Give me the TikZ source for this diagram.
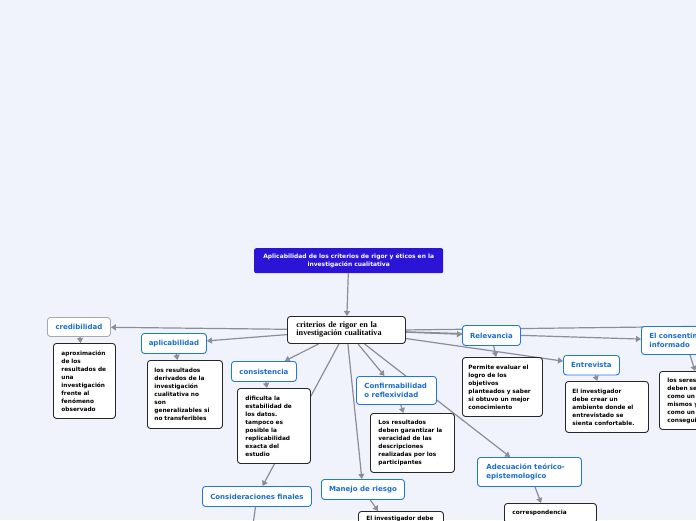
\documentclass[tikz,border=0pt]{standalone}
\usepackage{fontspec}
\setmainfont{DejaVu Sans}
\newfontfamily\serifb{Liberation Serif}
\usetikzlibrary{arrows.meta,calc}
\definecolor{bgc}{RGB}{241,243,252}
\definecolor{titlec}{RGB}{44,20,214}
\definecolor{lblue}{RGB}{30,120,228}
\definecolor{tblue}{RGB}{25,110,210}
\definecolor{edgec}{RGB}{138,142,152}
\definecolor{gborder}{RGB}{165,168,178}
\pgfdeclarelayer{backl}
\pgfdeclarelayer{edgel}
\pgfsetlayers{backl,edgel,main}
\begin{document}
\begin{tikzpicture}[x=1pt,y=-1pt,
  conn/.style={draw=edgec, line width=1.2pt, -{Triangle[length=5pt,width=6pt]}},
  lbl/.style={draw=lblue, line width=0.9pt, rounded corners=3pt, fill=white,
    font=\bfseries\fontsize{7}{8.5}\selectfont, text=tblue, inner sep=0pt, anchor=north west},
  lbltwo/.style={lbl, align=left, inner ysep=0pt},
  txtbox/.style={draw=black!85, line width=0.9pt, rounded corners=3pt, fill=white,
    font=\bfseries\fontsize{5.8}{8}\selectfont, text=black, align=left,
    anchor=north west, inner ysep=0pt},
]
\useasboundingbox (0,0) rectangle (696,520);
\begin{pgfonlayer}{backl}
\fill[bgc] (0,0) rectangle (696,520);
\end{pgfonlayer}
\clip (0,0) rectangle (696,520);

% title and central
\node[fill=titlec, rounded corners=2pt, text=white, font=\bfseries\fontsize{5.95}{7.8}\selectfont,
  align=center, minimum width=189, minimum height=25, anchor=north west, inner sep=0pt]
  (title) at (254,248) {Aplicabilidad de los criterios de rigor y éticos en la\\investigación cualitativa};
\node[draw=black!85, line width=0.9pt, rounded corners=3pt, fill=white,
  font=\serifb\bfseries\fontsize{8.2}{8}\selectfont, align=left, text width=100,
  inner xsep=9, inner ysep=0pt, minimum height=27, anchor=north west]
  (central) at (287,316) {criterios de rigor en la\\investigación cualitativa};

% labels
\node[lbl, draw=gborder, minimum width=63, minimum height=19] (cred) at (47,317) {credibilidad};
\node[lbl, minimum width=65, minimum height=20] (aplic) at (141,333) {aplicabilidad};
\node[lbl, minimum width=65, minimum height=20] (consis) at (231,361) {consistencia};
\node[lbltwo, text width=64, inner xsep=8, minimum height=28] (confirm) at (356,376) {Confirmabilidad\\o reflexividad};
\node[lbl, minimum width=58, minimum height=20] (relev) at (462,325) {Relevancia};
\node[lbl, minimum width=56, minimum height=19.5] (entrev) at (563,355) {Entrevista};
\node[lbltwo, text width=72, inner xsep=8, minimum height=28] (consent) at (641,326) {El consentimiento\\informado};
\node[lbl, minimum width=109, minimum height=20] (consid) at (202,486) {Consideraciones finales};
\node[lbl, minimum width=83, minimum height=20] (manejo) at (321,479) {Manejo de riesgo};
\node[lbltwo, text width=86, inner xsep=9, minimum height=29] (adec) at (477,457) {Adecuación teórico-\\epistemologico};

% text boxes
\node[txtbox, text width=46, inner xsep=8, minimum height=75] (credt) at (53,343)
  {aproximación\\de los\\resultados de\\una\\investigación\\frente al\\fenómeno\\observado};
\node[txtbox, text width=61, inner xsep=7, minimum height=68] (aplict) at (147,360)
  {los resultados\\derivados de la\\investigación\\cualitativa no\\son\\generalizables si\\no transferibles};
\node[txtbox, text width=57, inner xsep=8, minimum height=75] (consist) at (237,388)
  {dificulta la\\estabilidad de\\los datos.\\tampoco es\\posible la\\replicabilidad\\exacta del\\estudio};
\node[txtbox, text width=68, inner xsep=8, minimum height=59] (confirmt) at (370,413)
  {Los resultados\\deben garantizar la\\veracidad de las\\descripciones\\realizadas por los\\participantes};
\node[txtbox, text width=68, inner xsep=6, minimum height=59] (relevt) at (462,357)
  {Permite evaluar el\\logro de los\\objetivos\\planteados y saber\\si obtuvo un mejor\\conocimiento};
\node[txtbox, text width=69, inner xsep=7, minimum height=51] (entrevt) at (565,381)
  {El investigador\\debe crear un\\ambiente donde el\\entrevistado se\\sienta confortable.};
\node[txtbox, text width=74, inner xsep=8, minimum height=58] (consentt) at (659,371)
  {los seres humanos\\deben ser\\como un\\mismos y\\como un\\conseguir};
\node[txtbox, text width=69, inner xsep=8, inner ysep=5] (manejot) at (358,511)
  {El investigador debe};
\node[txtbox, text width=76, inner xsep=8, inner ysep=7] (adect) at (504,503)
  {correspondencia};

\coordinate (offr) at (730,326);
\coordinate (cfbelow) at (252,532);

\begin{pgfonlayer}{edgel}
\draw[conn] (title) -- (central);
\draw[conn] (central) -- (cred);
\draw[conn] (central) -- (aplic);
\draw[conn] (central) -- (consis);
\draw[conn] (central) -- (consid);
\draw[conn] (central) -- (manejo);
\draw[conn] (central) -- (confirm);
\draw[conn] (central) -- (adec);
\draw[conn] (central) -- (relev);
\draw[conn] (central) -- (entrev);
\draw[conn] (central) -- (consent);
\draw[conn] (central.east) -- (offr);
\draw[conn] (cred) -- (credt);
\draw[conn] (aplic) -- (aplict);
\draw[conn] (consis) -- (consist);
\draw[conn] (confirm) -- (confirmt);
\draw[conn] (relev) -- (relevt);
\draw[conn] (entrev) -- (entrevt);
\draw[conn] (consent) -- (consentt);
\draw[conn] (manejo) -- ($(manejot.north west)+(20,0)$);
\draw[conn] (adec) -- ($(adect.north west)+(37,0)$);
\draw[conn] (consid) -- (cfbelow);
\end{pgfonlayer}
\end{tikzpicture}
\end{document}
